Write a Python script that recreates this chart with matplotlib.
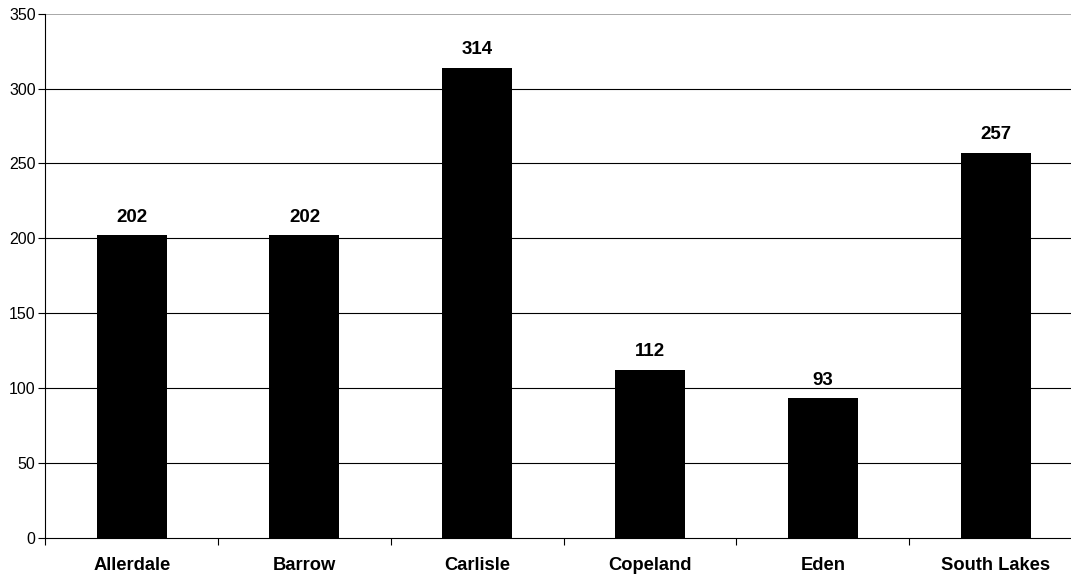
import matplotlib.pyplot as plt
import numpy as np

plt.rcParams['font.family'] = ['Liberation Sans', 'DejaVu Sans']

# districts and counts
districts = ['Allerdale', 'Barrow', 'Carlisle', 'Copeland', 'Eden', 'South Lakes']
counts = [202, 202, 314, 112, 93, 257]
y_ticks = [0, 50, 100, 150, 200, 250, 300, 350]

fig = plt.figure(figsize=(10.71, 5.75), dpi=100)
ax = fig.add_axes([0.0423, 0.0649, 0.968, 0.9113])

x = np.arange(len(districts))
bars = ax.bar(x, counts, width=0.405, color='black', zorder=3)

for rect, v in zip(bars, counts):
    ax.annotate(str(v), (rect.get_x() + rect.get_width() / 2, v),
                xytext=(0, 7), textcoords='offset points',
                ha='center', va='bottom', fontsize=13.5, fontweight='bold')

ax.set_xlim(-0.5, len(districts) - 0.5)
ax.set_ylim(0, 350)
ax.set_yticks(y_ticks)
ax.set_yticklabels([str(t) for t in y_ticks], fontsize=11.5)

# category labels in the middle, ticks on the boundaries
ax.set_xticks(x)
ax.set_xticklabels(districts, fontsize=13.2, fontweight='bold')
ax.tick_params(axis='x', which='major', length=0, pad=14)
ax.set_xticks(np.arange(-0.5, len(districts)), minor=True)
ax.tick_params(axis='x', which='minor', length=5, width=0.8, direction='out')
ax.tick_params(axis='y', length=5, width=0.8, direction='out', pad=2)

for v in y_ticks[1:-1]:
    ax.axhline(v, color='black', linewidth=0.8, zorder=1)
ax.axhline(350, color='#999999', linewidth=1.2, zorder=1)

for s in ['top', 'right']:
    ax.spines[s].set_visible(False)
ax.spines['left'].set_linewidth(0.8)
ax.spines['bottom'].set_linewidth(0.8)

plt.savefig('out.png', dpi=100)
